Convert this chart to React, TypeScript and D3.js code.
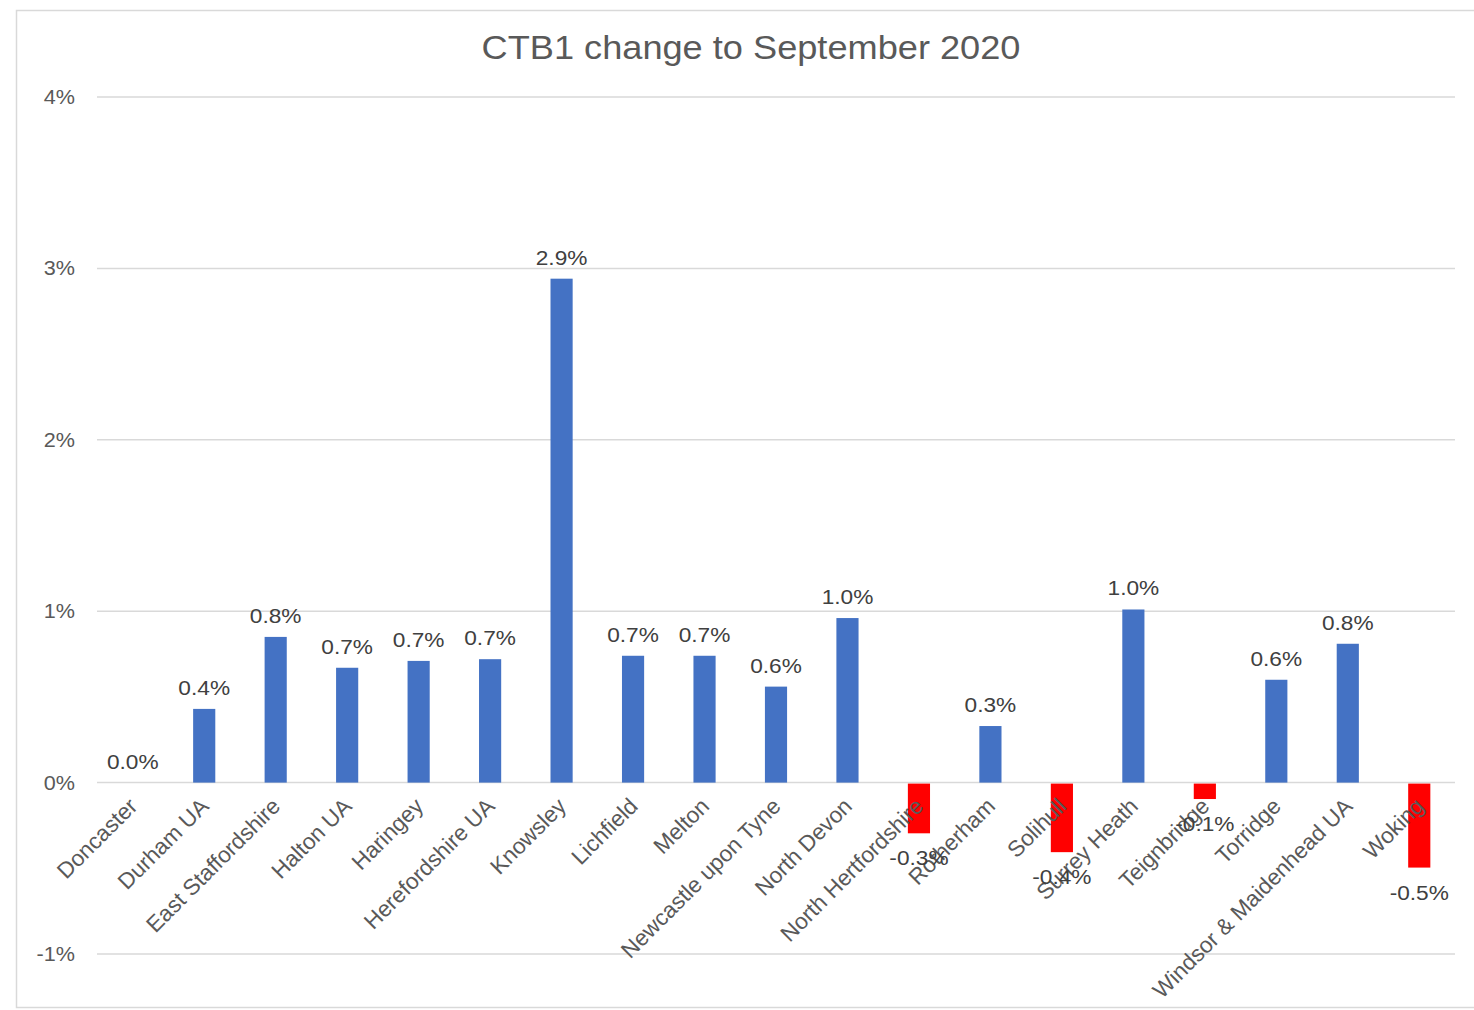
import React from "react";
import { scaleBand, scaleLinear } from "d3";

const categories = [
  "Doncaster",
  "Durham UA",
  "East Staffordshire",
  "Halton UA",
  "Haringey",
  "Herefordshire UA",
  "Knowsley",
  "Lichfield",
  "Melton",
  "Newcastle upon Tyne",
  "North Devon",
  "North Hertfordshire",
  "Rotherham",
  "Solihull",
  "Surrey Heath",
  "Teignbridge",
  "Torridge",
  "Windsor & Maidenhead UA",
  "Woking",
];

// change in %
const values = [
  0.0, 0.43, 0.85, 0.67, 0.71, 0.72, 2.94, 0.74, 0.74, 0.56, 0.96, -0.29, 0.33,
  -0.4, 1.01, -0.09, 0.6, 0.81, -0.49,
];

const yTicks = [-1, 0, 1, 2, 3, 4];

const W = 1474;
const H = 1010;
const FONT = "Liberation Sans, Arial, sans-serif";
const STRETCH = "scale(1.08,1)";

export default function App() {
  const x = scaleBand<string>()
    .domain(categories)
    .range([97, 1455])
    .paddingInner(0.69)
    .paddingOuter(0.345);

  const y = scaleLinear().domain([-1, 4]).range([954, 97]);
  const y0 = y(0);

  return (
    <svg
      width={W}
      height={H}
      style={{ position: "absolute", left: 0, top: 0, background: "#fff" }}
      fontFamily={FONT}
    >
      {/* chart frame */}
      <rect
        x={16.5}
        y={10.5}
        width={W}
        height={997}
        fill="none"
        stroke="#d9d9d9"
        strokeWidth={1.5}
      />

      {/* title */}
      <text
        transform={`translate(751,59) ${STRETCH}`}
        textAnchor="middle"
        fontSize={33.5}
        fill="#595959"
      >
        CTB1 change to September 2020
      </text>

      {/* grid + y labels */}
      {yTicks.map((t) => (
        <g key={t}>
          <line
            x1={97}
            x2={1455}
            y1={y(t)}
            y2={y(t)}
            stroke="#d9d9d9"
            strokeWidth={1.5}
          />
          <text
            transform={`translate(75,${y(t) + 7}) ${STRETCH}`}
            textAnchor="end"
            fontSize={20}
            fill="#595959"
          >
            {t}%
          </text>
        </g>
      ))}

      {/* bars */}
      {categories.map((c, i) => {
        const v = values[i];
        const top = v >= 0 ? y(v) : y0 + 1;
        const h = Math.abs(y(v) - y0);
        return (
          <rect
            key={c}
            x={x(c)!}
            y={top}
            width={x.bandwidth()}
            height={h}
            fill={v >= 0 ? "#4472C4" : "#FF0000"}
          />
        );
      })}

      {/* category labels */}
      {categories.map((c) => {
        const cx = x(c)! + x.bandwidth() / 2;
        return (
          <text
            key={c}
            transform={`translate(${cx + 6},${y0 + 25}) rotate(-45)`}
            textAnchor="end"
            fontSize={22.5}
            fill="#595959"
          >
            {c}
          </text>
        );
      })}

      {/* data labels */}
      {categories.map((c, i) => {
        const v = values[i];
        const cx = x(c)! + x.bandwidth() / 2;
        const ty = v >= 0 ? y(v) - 14 : y(v) + 33;
        return (
          <text
            key={c}
            transform={`translate(${cx},${ty}) ${STRETCH}`}
            textAnchor="middle"
            fontSize={21}
            fill="#404040"
          >
            {v.toFixed(1)}%
          </text>
        );
      })}
    </svg>
  );
}
